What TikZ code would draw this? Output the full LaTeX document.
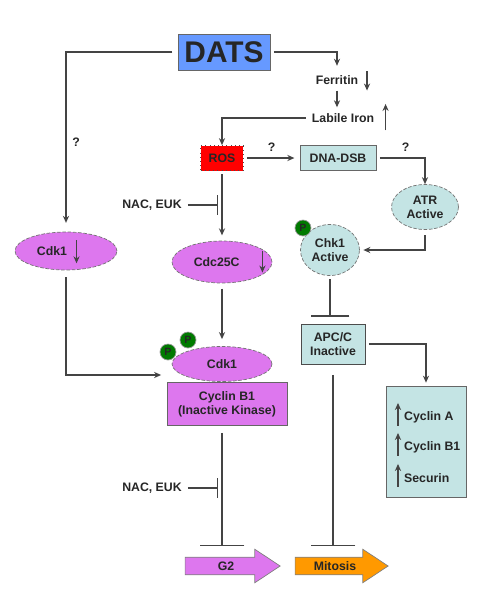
\documentclass[tikz,border=0pt]{standalone}
\usepackage{fontspec}
\setmainfont{Liberation Sans}
\usetikzlibrary{arrows.meta,shapes.geometric,shapes.arrows}
\definecolor{datsblue}{HTML}{6699FF}
\definecolor{cellcyan}{HTML}{C4E4E4}
\definecolor{violet}{HTML}{DD77EE}
\definecolor{phosgreen}{HTML}{007A00}
\definecolor{mitorange}{HTML}{FF9900}
\definecolor{linegray}{HTML}{444444}
\begin{document}
\begin{tikzpicture}[x=0.02cm,y=-0.02cm,
    every node/.style={font=\fontsize{7}{8}\selectfont\bfseries, text=black!85, align=center},
    arr/.style={draw=linegray, line width=0.7pt, -{Stealth[length=4pt,width=3.5pt]}},
    stop/.style={draw=linegray, line width=0.7pt, -{Bar[width=#1,line width=0.9pt]}},
    box/.style={draw=black!60, rectangle, inner sep=1pt},
    oval/.style={draw=black!55, dash pattern=on 2pt off 1pt, ellipse, inner sep=0pt},
    phos/.style={circle, fill=phosgreen, draw=black!40, minimum size=0.32cm, inner sep=0pt, font=\fontsize{6}{6}\selectfont\bfseries},
    bigarrow/.style={single arrow, draw=black!50, single arrow tip angle=67, single arrow head extend=0.16cm,
      text height=5pt, text depth=0pt, inner ysep=2.3pt, minimum height=1.9cm}]

  \useasboundingbox (0,0) rectangle (500,593);

  \node[box, fill=datsblue, minimum width=1.84cm, minimum height=0.72cm, font=\fontsize{17}{17}\selectfont\bfseries] (dats) at (224,52) {DATS};
  \node (fer) at (337,80) {Ferritin};
  \node (iron) at (343,118) {Labile Iron};
  \draw[arr] ([xshift=1.5pt,yshift=5pt]fer.east) -- ([xshift=1.5pt,yshift=-6pt]fer.east);
  \draw[arr] ([xshift=3pt,yshift=-7pt]iron.east) -- ([xshift=3pt,yshift=8pt]iron.east);

  \node[box, fill=red, draw=black!70, dotted, minimum width=0.86cm, minimum height=0.5cm] (ros) at (222,158) {ROS};
  \node[box, fill=cellcyan, minimum width=1.52cm, minimum height=0.5cm] (dsb) at (338,158) {DNA-DSB};
  \node[oval, fill=cellcyan, minimum width=1.34cm, minimum height=0.9cm] (atr) at (425,207) {ATR\\Active};
  \node[oval, fill=cellcyan, minimum width=1.18cm, minimum height=1.02cm] (chk) at (330,250) {Chk1\\Active};
  \node[phos] (pchk) at (303,228) {P};
  \node[box, fill=cellcyan, draw=black!70, minimum width=1.28cm, minimum height=0.8cm] (apc) at (333,344) {APC/C\\Inactive};

  \node[box, fill=cellcyan, minimum width=1.6cm, minimum height=2.22cm] (cyc) at (426,442) {};
  \node[anchor=west] (cyca) at (398,417) {Cyclin A};
  \node[anchor=west] (cycb1) at (398,447) {Cyclin B1};
  \node[anchor=west] (secur) at (398,478) {Securin};
  \foreach \n in {cyca,cycb1,secur}
    \draw[arr] ([yshift=-5pt]\n.west) -- ([yshift=8pt]\n.west);

  \node[oval, fill=violet, minimum width=2.04cm, minimum height=0.76cm] (cdkl) at (66,251) {Cdk1\hspace{16pt}};
  \draw[arr] ([xshift=6pt,yshift=6pt]cdkl.center) -- ([xshift=6pt,yshift=-7pt]cdkl.center);
  \node[oval, fill=violet, minimum width=2.0cm, minimum height=0.84cm] (cdc) at (222,262) {Cdc25C\hspace{6pt}};
  \draw[arr] ([xshift=23pt,yshift=6pt]cdc.center) -- ([xshift=23pt,yshift=-6pt]cdc.center);

  \node[box, fill=violet, minimum width=2.4cm, minimum height=0.86cm] (cycb) at (227,404) {Cyclin B1\\(Inactive Kinase)};
  \node[oval, fill=violet, minimum width=2.0cm, minimum height=0.7cm] (cdk) at (222,364) {Cdk1};
  \node[phos] (p1) at (168,352) {P};
  \node[phos] (p2) at (188,340) {P};

  \node[bigarrow, fill=violet] (g2) at (226,566) {G2};
  \node[bigarrow, fill=mitorange, minimum height=1.86cm] (mit) at (335,566) {Mitosis};

  \node (nac1) at (152,205) {NAC, EUK};
  \node (nac2) at (152,488) {NAC, EUK};

  \draw[arr, shorten <=3pt, shorten >=5pt] (dats.west) -| (cdkl.north) node[pos=0.75, right] (q1) {?};
  \draw[arr, shorten <=2pt, shorten >=2pt] (dats.east) -| (fer.north);
  \draw[arr] (fer.south) -- (fer.south |- iron.north);
  \draw[arr] (iron.west) -| (ros.north);
  \draw[arr, shorten <=2pt, shorten >=3pt] (ros.east) -- (dsb.west) node[midway, above] (q2) {?};
  \draw[arr, shorten <=2pt] (dsb.east) -| (atr.north) node[pos=0.3, above] (q3) {?};
  \draw[arr, shorten <=3pt, shorten >=2pt] (atr.south) |- (chk.east);
  \draw[stop=0.78cm, shorten <=2pt, shorten >=4pt] (chk.south) -- (chk.south |- apc.north);
  \draw[arr, shorten <=2pt, shorten >=2pt] (apc.east) -| (cyc.north);
  \draw[stop=0.9cm, shorten <=6pt, shorten >=6pt] (apc.south) -- (apc.south |- mit.north);

  \draw[arr, shorten <=2pt, shorten >=3pt] (ros.south) -- (cdc.north);
  \draw[stop=0.4cm, shorten >=2pt] (nac1.east) -- (nac1.east -| ros.south);
  \draw[arr, shorten <=3pt, shorten >=4pt] (cdc.south) -- (cdk.north);
  \draw[arr, shorten <=4pt, shorten >=6pt] (cdkl.south) |- ([yshift=-0.22cm]cdk.west);

  \draw[stop=0.9cm, shorten <=4pt, shorten >=6pt] (cdk.south |- cycb.south) -- (cdk.south |- g2.north);
  \draw[stop=0.4cm, shorten >=2pt] (nac2.east) -- (nac2.east -| cdk.south);

\end{tikzpicture}
\end{document}
